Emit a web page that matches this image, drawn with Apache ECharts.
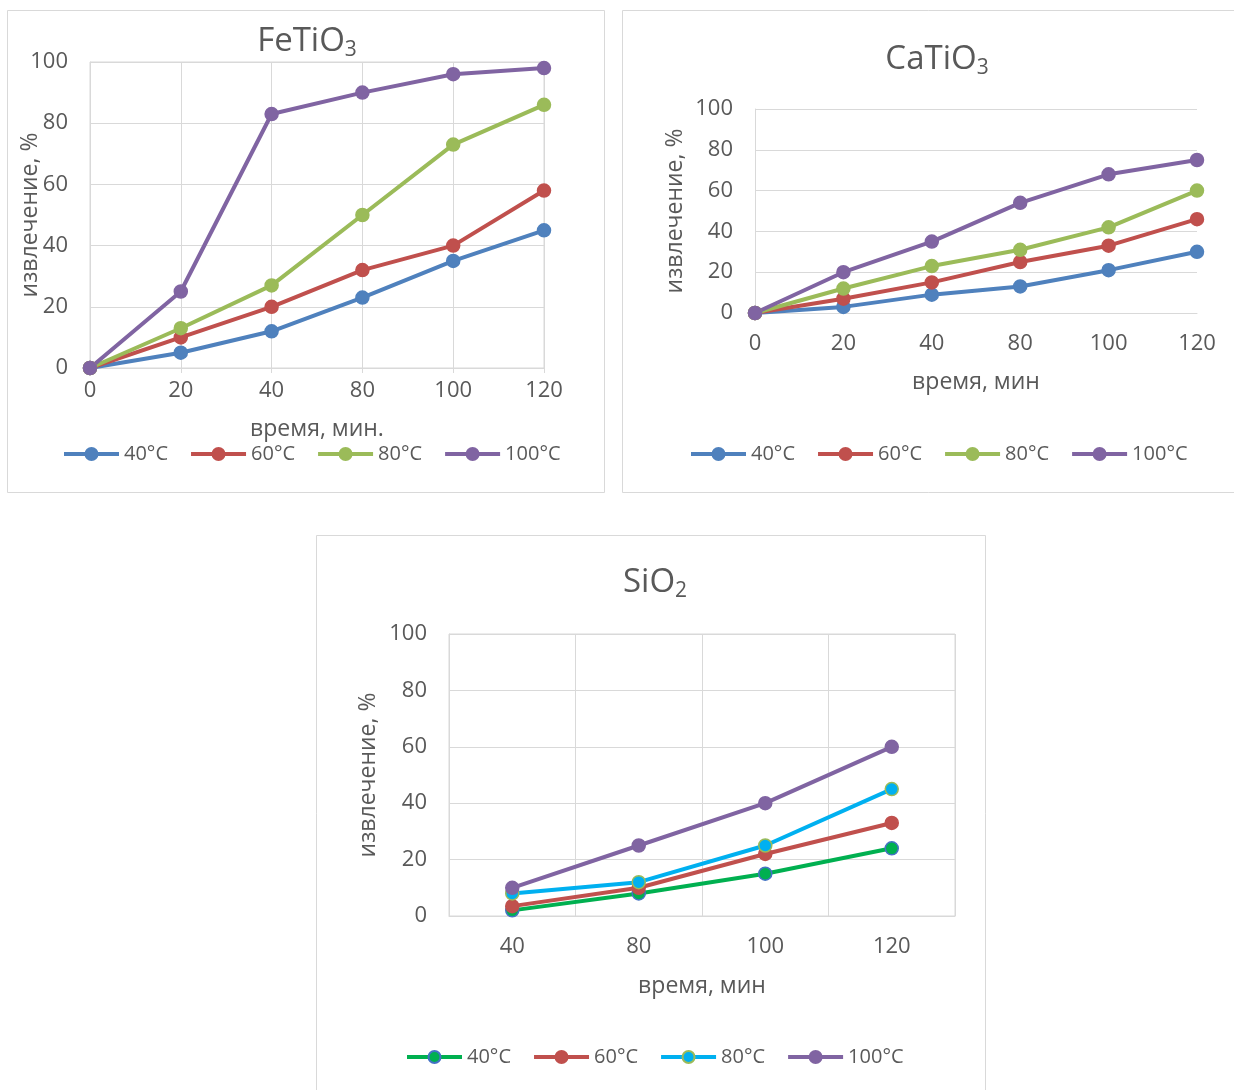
<!DOCTYPE html>
<html>
<head>
<meta charset="utf-8">
<title>Извлечение, %</title>
<script src="https://cdn.jsdelivr.net/npm/echarts@6/dist/echarts.min.js"></script>
<style>
  html, body { margin: 0; padding: 0; background: #ffffff; }
  #chart { width: 1234px; height: 1090px; }
</style>
</head>
<body>
<div id="chart"></div>
<script>
// Время выщелачивания, мин
const timeFeCa = ['0', '20', '40', '80', '100', '120'];
const timeSi = ['40', '80', '100', '120'];
const yTicks = [0, 20, 40, 60, 80, 100];
const tempLabels = ['40°C', '60°C', '80°C', '100°C'];

// FeTiO3, извлечение %
const fe40 = [0, 5, 12, 23, 35, 45];
const fe60 = [0, 10, 20, 32, 40, 58];
const fe80 = [0, 13, 27, 50, 73, 86];
const fe100 = [0, 25, 83, 90, 96, 98];

// CaTiO3, извлечение %
const ca40 = [0, 3, 9, 13, 21, 30];
const ca60 = [0, 7, 15, 25, 33, 46];
const ca80 = [0, 12, 23, 31, 42, 60];
const ca100 = [0, 20, 35, 54, 68, 75];

// SiO2, извлечение %
const si40 = [2, 8, 15, 24];
const si60 = [3.5, 10, 22, 33];
const si80 = [8, 12, 25, 45];
const si100 = [10, 25, 40, 60];

const FONT = 'Open Sans';
const TXT = '#595959';
const GRIDC = '#D9D9D9';
const BLUE = '#4F81BD', RED = '#C0504D', OLIVE = '#9BBB59', PURPLE = '#8064A2';
const GREEN = '#00B050', CYAN = '#00B0F0', BORDERBLUE = '#4472C4';

const chart = echarts.init(document.getElementById('chart'), null, { renderer: 'canvas' });

function titleText(main, sub) {
  return '{m|' + main + '}{s|' + sub + '}';
}
const titleRich = {
  m: { fontSize: 33, fontFamily: FONT, fontWeight: 'normal', color: TXT, lineHeight: 40, verticalAlign: 'bottom' },
  s: { fontSize: 21, fontFamily: FONT, fontWeight: 'normal', color: TXT, lineHeight: 21, padding: [25, 0, 0, 0] }
};

function yAxisCfg(gridIndex, nameGap) {
  return {
    type: 'value', gridIndex, min: yTicks[0], max: yTicks[yTicks.length - 1], interval: 20,
    name: 'извлечение, %', nameLocation: 'middle', nameGap, nameMoveOverlap: false,
    nameTextStyle: { fontFamily: FONT, fontSize: 23, color: TXT },
    axisLine: { show: true, lineStyle: { color: GRIDC, width: 1 } },
    axisTick: { show: false },
    axisLabel: { fontFamily: FONT, fontSize: 22, color: TXT, margin: 22 },
    splitLine: { show: true, lineStyle: { color: GRIDC, width: 1 } }
  };
}

function xAxisCfg(gridIndex, data, boundaryGap, vlines, labelMargin, nameGap, name, tick) {
  return {
    type: 'category', gridIndex, data, boundaryGap,
    name, nameLocation: 'middle', nameGap, nameMoveOverlap: false,
    nameTextStyle: { fontFamily: FONT, fontSize: 23, color: TXT },
    axisLine: { show: true, lineStyle: { color: GRIDC, width: 1 } },
    axisTick: { show: tick, length: 5, lineStyle: { color: GRIDC } },
    axisLabel: { fontFamily: FONT, fontSize: 22, color: TXT, margin: labelMargin, interval: 0 },
    splitLine: { show: vlines, lineStyle: { color: GRIDC, width: 1 } }
  };
}

function lineSeries(name, data, idx, color, markerFill, markerBorder) {
  return {
    name, type: 'line', xAxisIndex: idx, yAxisIndex: idx, data,
    symbol: 'circle', symbolSize: 13,
    lineStyle: { color, width: 4 },
    itemStyle: { color: markerFill || color, borderColor: markerBorder || markerFill || color, borderWidth: 1.5 },
    emphasis: { disabled: true },
    animation: false
  };
}

function legendCfg(left, top, prefix) {
  return {
    left, top, padding: 0, itemWidth: 55, itemHeight: 15, itemGap: 21,
    lineStyle: { width: 4 },
    data: tempLabels.map(t => prefix + ' ' + t),
    formatter: n => n.split(' ').pop(),
    textStyle: { fontFamily: FONT, fontSize: 20, color: TXT }
  };
}

const option = {
  backgroundColor: '#ffffff',
  animation: false,
  graphic: [
    { type: 'rect', shape: { x: 7.5, y: 10.5, width: 597, height: 482 }, style: { fill: 'none', stroke: GRIDC, lineWidth: 1 } },
    { type: 'rect', shape: { x: 622.5, y: 10.5, width: 630, height: 482 }, style: { fill: 'none', stroke: GRIDC, lineWidth: 1 } },
    { type: 'rect', shape: { x: 316.5, y: 535.5, width: 669, height: 580 }, style: { fill: 'none', stroke: GRIDC, lineWidth: 1 } }
  ],
  title: [
    { text: titleText('FeTiO', '3'), left: 302, top: 13, textAlign: 'center', textStyle: { rich: titleRich } },
    { text: titleText('CaTiO', '3'), left: 932, top: 31, textAlign: 'center', textStyle: { rich: titleRich } },
    { text: titleText('SiO', '2'), left: 650, top: 554, textAlign: 'center', textStyle: { rich: titleRich } }
  ],
  grid: [
    { left: 90, top: 62, width: 454, height: 306, show: true, borderColor: GRIDC, borderWidth: 1 },
    { left: 755, top: 109, width: 442, height: 204 },
    { left: 449, top: 634, width: 506, height: 282, show: true, borderColor: GRIDC, borderWidth: 1 }
  ],
  xAxis: [
    xAxisCfg(0, timeFeCa, false, true, 12, 50, 'время, мин.', true),
    xAxisCfg(1, timeFeCa, false, false, 20, 58, 'время, мин', false),
    xAxisCfg(2, timeSi, true, true, 20, 59, 'время, мин', false)
  ],
  yAxis: [
    yAxisCfg(0, 48),
    yAxisCfg(1, 68),
    yAxisCfg(2, 69)
  ],
  legend: [
    legendCfg(62, 444, 'FeTiO3'),
    legendCfg(689, 444, 'CaTiO3'),
    legendCfg(405, 1047, 'SiO2')
  ],
  series: [
    lineSeries('FeTiO3 40°C', fe40, 0, BLUE),
    lineSeries('FeTiO3 60°C', fe60, 0, RED),
    lineSeries('FeTiO3 80°C', fe80, 0, OLIVE),
    lineSeries('FeTiO3 100°C', fe100, 0, PURPLE),

    lineSeries('CaTiO3 40°C', ca40, 1, BLUE),
    lineSeries('CaTiO3 60°C', ca60, 1, RED),
    lineSeries('CaTiO3 80°C', ca80, 1, OLIVE),
    lineSeries('CaTiO3 100°C', ca100, 1, PURPLE),

    lineSeries('SiO2 40°C', si40, 2, GREEN, GREEN, BORDERBLUE),
    lineSeries('SiO2 60°C', si60, 2, RED),
    lineSeries('SiO2 80°C', si80, 2, CYAN, CYAN, OLIVE),
    lineSeries('SiO2 100°C', si100, 2, PURPLE)
  ]
};

chart.setOption(option);
</script>
</body>
</html>
